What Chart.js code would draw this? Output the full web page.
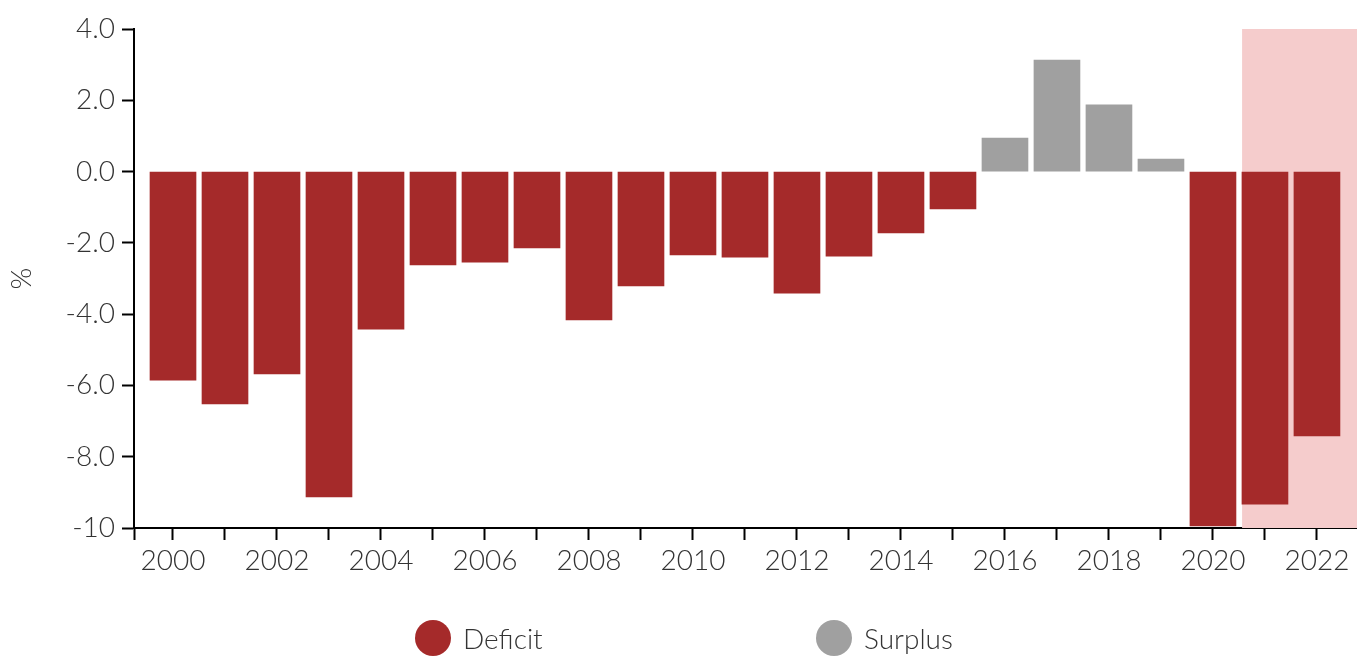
<!DOCTYPE html>
<html>
<head>
<meta charset="utf-8">
<script src="https://cdn.jsdelivr.net/npm/chart.js@4"></script>
<style>
  html, body { margin: 0; padding: 0; background: #fff; }
  #wrap { position: relative; width: 1357px; height: 656px; overflow: hidden; }
  .item { position: absolute; top: 620px; display: flex; align-items: center; font-family: Lato, sans-serif; font-weight: 300; font-size: 28px; color: #333; }
  .dot { width: 36px; height: 36px; border-radius: 50%; margin-right: 12px; }
</style>
</head>
<body>
<div id="wrap">
  <canvas id="chart" width="1357" height="656"></canvas>
  <div class="item" style="left:415px"><span class="dot" style="background:#a52a2a"></span>Deficit</div>
  <div class="item" style="left:816px"><span class="dot" style="background:#a0a0a0"></span>Surplus</div>
</div>
<script>
// datos (% del PIB)
const years = [2000, 2001, 2002, 2003, 2004, 2005, 2006, 2007, 2008, 2009, 2010, 2011,
               2012, 2013, 2014, 2015, 2016, 2017, 2018, 2019, 2020, 2021, 2022];
const balance = [-5.85, -6.52, -5.68, -9.13, -4.42, -2.62, -2.54, -2.14, -4.16, -3.21, -2.34, -2.40,
                 -3.41, -2.37, -1.72, -1.05, 0.94, 3.13, 1.87, 0.35, -9.94, -9.33, -7.42];
const yTicks = [-10, -8, -6, -4, -2, 0, 2, 4];
const seriesNames = ['Deficit', 'Surplus'];
const seriesColors = ['#a52a2a', '#a0a0a0'];
const forecastFrom = 2020.56; // zona sombreada (proyeccion)

const FONT = 'Lato, sans-serif';

const deficit = years.map((y, i) => ({ x: y, y: balance[i] < 0 ? balance[i] : null }));
const surplus = years.map((y, i) => ({ x: y, y: balance[i] >= 0 ? balance[i] : null }));

// fondo rosa para los anios proyectados
const shade = {
  id: 'shade',
  beforeDatasetsDraw(chart) {
    const { ctx, chartArea, scales } = chart;
    const x0 = scales.x.getPixelForValue(forecastFrom);
    ctx.save();
    ctx.fillStyle = '#f5cccc';
    ctx.fillRect(x0, chartArea.top, chartArea.right - x0, chartArea.bottom - chartArea.top);
    ctx.restore();
  }
};

new Chart(document.getElementById('chart'), {
  type: 'bar',
  data: {
    datasets: [
      { label: seriesNames[0], data: deficit, backgroundColor: seriesColors[0] },
      { label: seriesNames[1], data: surplus, backgroundColor: seriesColors[1] }
    ]
  },
  options: {
    responsive: false,
    animation: false,
    layout: { padding: { top: 29, right: 0, left: 0, bottom: 0 } },
    datasets: { bar: { grouped: false, barThickness: 46 } },
    plugins: { legend: { display: false }, tooltip: { enabled: false } },
    scales: {
      x: {
        type: 'linear',
        offset: false,
        min: 1999.25,
        max: 2022.77,
        afterBuildTicks: s => { s.ticks = [1999.25].concat(years).map(v => ({ value: v })); },
        afterFit: s => { s.height = 128; },
        ticks: {
          autoSkip: false, maxRotation: 0, padding: 4, color: '#333',
          font: { family: FONT, size: 28, weight: 300 },
          callback: v => (v % 2 === 0 ? String(v) : '')
        },
        grid: { drawOnChartArea: false, offset: false, tickLength: 12, tickColor: '#000', tickWidth: 2 },
        border: { color: '#000', width: 2 }
      },
      y: {
        min: -10,
        max: 4,
        afterBuildTicks: s => { s.ticks = yTicks.map(v => ({ value: v })); },
        afterFit: s => { s.width = 134; },
        title: { display: true, text: '%', color: '#333', padding: 5, font: { family: FONT, size: 28, weight: 300 } },
        ticks: {
          padding: 7, color: '#333',
          font: { family: FONT, size: 28, weight: 300 },
          callback: v => (v === -10 ? '-10' : v.toFixed(1))
        },
        grid: { drawOnChartArea: false, tickLength: 12, tickColor: '#000', tickWidth: 2 },
        border: { color: '#000', width: 2 }
      }
    }
  },
  plugins: [shade]
});
</script>
</body>
</html>
